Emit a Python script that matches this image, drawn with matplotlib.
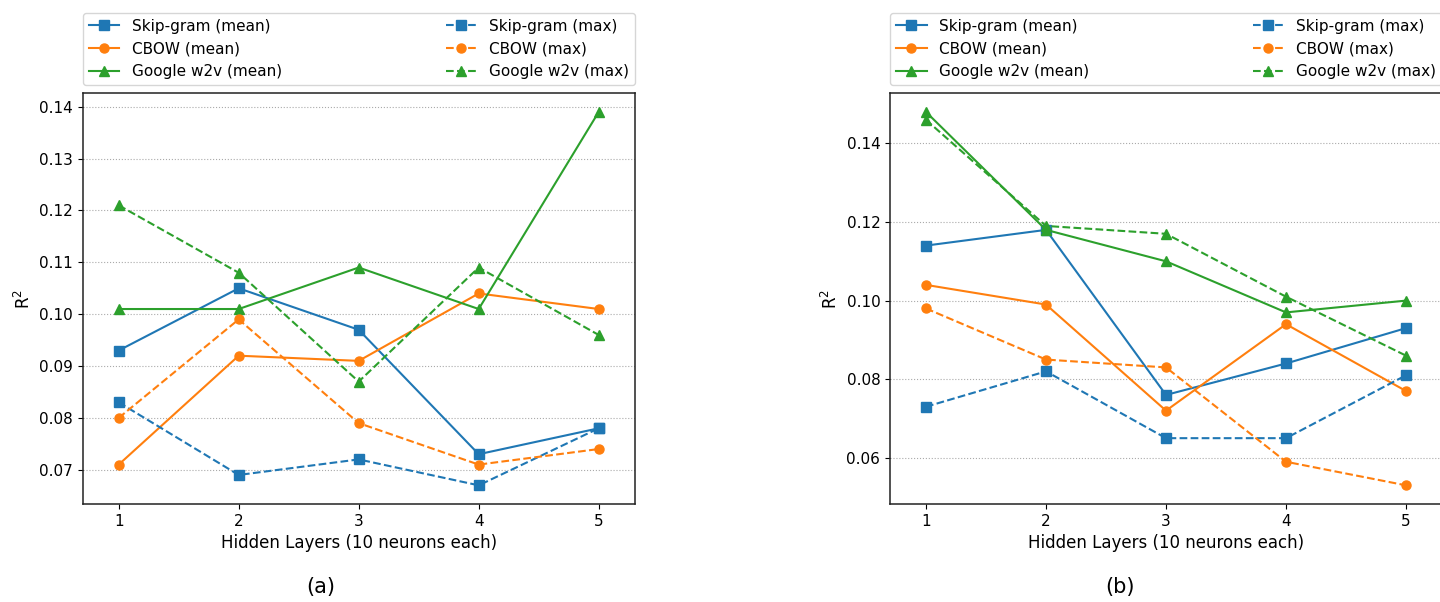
import matplotlib
matplotlib.use("Agg")
import matplotlib.pyplot as plt

layers = [1, 2, 3, 4, 5]
tick_labels = ["1", "2", "3", "4", "5"]

# Panel (a)
a_skip_mean = [0.093, 0.105, 0.097, 0.073, 0.078]
a_skip_max = [0.083, 0.069, 0.072, 0.067, 0.078]
a_cbow_mean = [0.071, 0.092, 0.091, 0.104, 0.101]
a_cbow_max = [0.080, 0.099, 0.079, 0.071, 0.074]
a_goog_mean = [0.101, 0.101, 0.109, 0.101, 0.139]
a_goog_max = [0.121, 0.108, 0.087, 0.109, 0.096]

# Panel (b)
b_skip_mean = [0.114, 0.118, 0.076, 0.084, 0.093]
b_skip_max = [0.073, 0.082, 0.065, 0.065, 0.081]
b_cbow_mean = [0.104, 0.099, 0.072, 0.094, 0.077]
b_cbow_max = [0.098, 0.085, 0.083, 0.059, 0.053]
b_goog_mean = [0.148, 0.118, 0.110, 0.097, 0.100]
b_goog_max = [0.146, 0.119, 0.117, 0.101, 0.086]

series_names = ["Skip-gram", "CBOW", "Google w2v"]
colors = ["#1f77b4", "#ff7f0e", "#2ca02c"]
markers = ["s", "o", "^"]

fig = plt.figure(figsize=(14.4, 6.02), dpi=100)
W, H = 1440, 602
ax_w = 552 / W
ax_h = (504 - 93.3) / H
ax_b = 1 - 504 / H
ax1 = fig.add_axes([82.7 / W, ax_b, ax_w, ax_h])
ax2 = fig.add_axes([890 / W, ax_b, ax_w, ax_h])

panels = [
    (ax1, [a_skip_mean, a_cbow_mean, a_goog_mean], [a_skip_max, a_cbow_max, a_goog_max]),
    (ax2, [b_skip_mean, b_cbow_mean, b_goog_mean], [b_skip_max, b_cbow_max, b_goog_max]),
]

for ax, means, maxs in panels:
    handles = []
    for name, c, m, vals in zip(series_names, colors, markers, means):
        h, = ax.plot(layers, vals, color=c, marker=m, linestyle="-", lw=1.5,
                     markersize=6.5, label=f"{name} (mean)")
        handles.append(h)
    for name, c, m, vals in zip(series_names, colors, markers, maxs):
        h, = ax.plot(layers, vals, color=c, marker=m, linestyle="--", lw=1.5,
                     markersize=6.5, label=f"{name} (max)")
        handles.append(h)
    ax.set_xticks(layers)
    ax.set_xticklabels(tick_labels)
    ax.set_xlim(0.7, 5.3)
    ax.grid(axis="y", linestyle=":", color="#aaaaaa", linewidth=0.8)
    ax.set_axisbelow(True)
    ax.tick_params(labelsize=11)
    ax.set_xlabel("Hidden Layers (10 neurons each)", fontsize=12)
    ax.set_ylabel("R$^2$", fontsize=12)
    for s in ax.spines.values():
        s.set_linewidth(1.1)
        s.set_color("#222222")
    ax.legend(handles=handles, bbox_to_anchor=(0, 1.02, 1, 0.2), loc="lower left",
              mode="expand", ncol=2, borderaxespad=0, fontsize=11)

fig.text(321 / W, 1 - 587 / H, "(a)", ha="center", va="center", fontsize=15)
fig.text(1120 / W, 1 - 587 / H, "(b)", ha="center", va="center", fontsize=15)

fig.savefig("out.png", dpi=100)
